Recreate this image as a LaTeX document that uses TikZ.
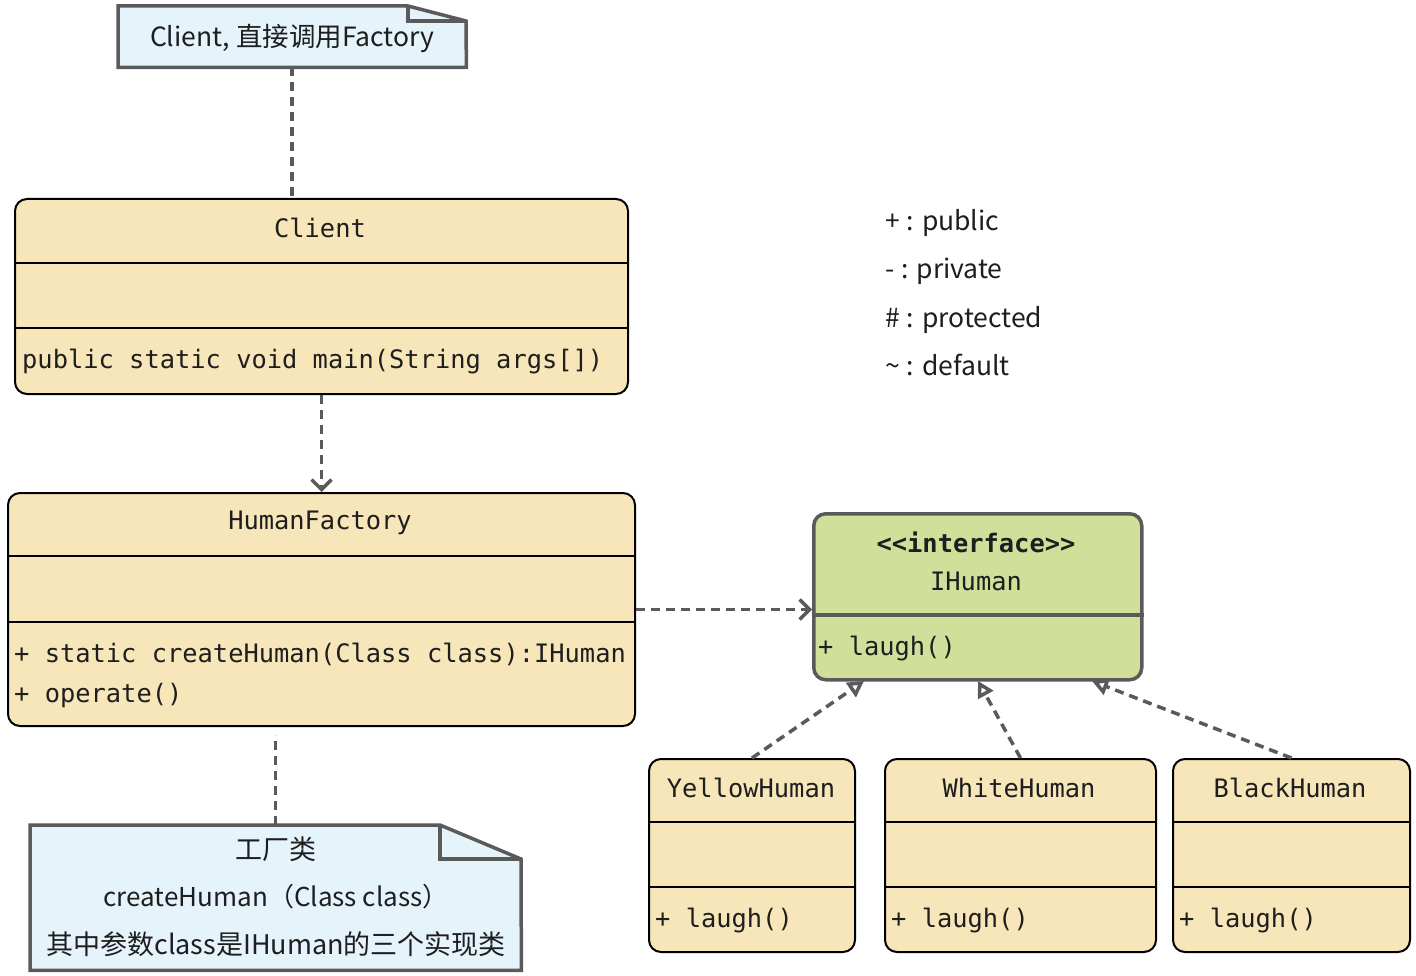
\documentclass[tikz,border=0pt]{standalone}
\usepackage{fontspec}
\setmainfont{Noto Sans CJK SC}
\setmonofont{DejaVu Sans Mono}
\usetikzlibrary{arrows.meta,calc}
\definecolor{classfill}{HTML}{F7E6B9}
\definecolor{notefill}{HTML}{E5F3FB}
\definecolor{ifill}{HTML}{D0E09B}
\definecolor{gray5}{HTML}{5A5A5A}
\definecolor{txt}{HTML}{1E1E1E}
\newcommand{\lgsep}[2]{#1\hspace{0.26em}:\hspace{0.3em}#2}
\begin{document}
\begin{tikzpicture}[x=1pt,y=-1pt,
 classbox/.style={draw=black, line width=2pt, fill=classfill, rounded corners=12pt, anchor=north west, inner sep=0pt},
 ifacebox/.style={draw=gray5, line width=3.5pt, fill=ifill, rounded corners=12pt, anchor=north west, inner sep=0pt},
 divider/.style={draw=black, line width=2pt},
 idivider/.style={draw=gray5, line width=3.5pt},
 mono/.style={font=\ttfamily\fontsize{25.4}{30}\selectfont, inner sep=0pt, text=txt},
 sans/.style={font=\fontsize{26.5}{31}\selectfont, inner sep=0pt, text=txt},
 bigsans/.style={font=\fontsize{27}{32}\selectfont, inner sep=0pt, text=txt},
 notebox/.style={draw=gray5, line width=3.5pt, fill=notefill},
 holder/.style={anchor=north west, inner sep=0pt},
 link/.style={draw=gray5, line width=3.5pt, dash pattern=on 9pt off 6pt},
 dep/.style={link, -{Straight Barb[length=10pt,width=20pt]}},
 real/.style={link, -{Triangle[open, length=16pt, width=17pt, fill=white]}},
]
\useasboundingbox[fill=white] (0,0) rectangle (1416,976);

% ---- top note
\node[holder, minimum width=348pt, minimum height=61pt] (note1) at (118,6) {};
\draw[notebox] (note1.south west) -- (note1.north west) -- (408,6) -- (466,21) -- (note1.south east) -- cycle;
\draw[gray5, line width=3.5pt] (408,6) -- (408,21) -- (466,21);
\node[sans] (note1t) at ($(note1.center)+(0,1.5)$) {Client, 直接调用Factory};

% ---- Client
\node[classbox, minimum width=613pt, minimum height=195pt] (client) at (14,198) {};
\draw[divider] (client.west |- 0,263) -- (client.east |- 0,263);
\draw[divider] (client.west |- 0,328) -- (client.east |- 0,328);
\node[mono] (clientt) at (320,228) {Client};
\node[mono, anchor=mid west] (clientm) at (22,366) {public static void main(String args[])};

% ---- HumanFactory
\node[classbox, minimum width=627pt, minimum height=233pt] (factory) at (7,492) {};
\draw[divider] (factory.west |- 0,556) -- (factory.east |- 0,556);
\draw[divider] (factory.west |- 0,622) -- (factory.east |- 0,622);
\node[mono] (factoryt) at (320,523) {HumanFactory};
\node[mono, anchor=mid west] (factorym1) at (14,660) {+ static createHuman(Class class):IHuman};
\node[mono, anchor=mid west] (factorym2) at (14,700) {+ operate()};

% ---- IHuman
\node[ifacebox, minimum width=328pt, minimum height=166pt] (ihuman) at (812,512) {};
\draw[idivider] (ihuman.west |- 0,615) -- (ihuman.east |- 0,615);
\node[mono, font=\ttfamily\bfseries\fontsize{25.4}{30}\selectfont] (ihumans) at (976,542) {<<interface>>};
\node[mono] (ihumant) at (976,581) {IHuman};
\node[mono, anchor=mid west] (ihumanm) at (818,653) {+ laugh()};

% ---- implementations
\node[classbox, minimum width=206pt, minimum height=193pt] (yellow) at (648,758) {};
\node[classbox, minimum width=271pt, minimum height=193pt] (white) at (884,758) {};
\node[classbox, minimum width=237pt, minimum height=193pt] (black) at (1172,758) {};
\foreach \b in {yellow,white,black}{
  \draw[divider] (\b.west |- 0,822) -- (\b.east |- 0,822);
  \draw[divider] (\b.west |- 0,887) -- (\b.east |- 0,887);
}
\node[mono] (yellowt) at (751,788) {YellowHuman};
\node[mono] (whitet) at (1019,788) {WhiteHuman};
\node[mono] (blackt) at (1290,788) {BlackHuman};
\node[mono, anchor=mid west] (yellowm) at (655,925) {+ laugh()};
\node[mono, anchor=mid west] (whitem) at (891,925) {+ laugh()};
\node[mono, anchor=mid west] (blackm) at (1179,925) {+ laugh()};

% ---- bottom note
\node[holder, minimum width=491pt, minimum height=145pt] (note2) at (30,825) {};
\draw[notebox] (note2.south west) -- (note2.north west) -- (440,825) -- (521,859) -- (note2.south east) -- cycle;
\draw[gray5, line width=3.5pt] (440,825) -- (440,859) -- (521,859);
\node[bigsans] (note2a) at (276,849) {工厂类};
\node[bigsans, font=\fontsize{26}{31}\selectfont] (note2b) at (276,897) {createHuman（Class class）};
\node[bigsans] (note2c) at (276,944) {其中参数class是IHuman的三个实现类};

% ---- legend
\node[sans, anchor=mid west] (lg1) at (885,228) {\lgsep{+}{public}};
\node[sans, anchor=mid west] (lg2) at (885,276) {\lgsep{-}{private}};
\node[sans, anchor=mid west] (lg3) at (885,325) {\lgsep{\#}{protected}};
\node[sans, anchor=mid west] (lg4) at (885,373) {\lgsep{\textasciitilde}{default}};

% ---- connectors
\draw[link] (note1.south) -- (note1.south |- client.north);
\draw[dep] (client.south) -- (factory.north);
\draw[dep] (factory.east) -- (ihuman.west |- factory.east);
\draw[link] (note2.north) -- ($(note2.north |- factory.south)+(0,8)$);
\coordinate (ty) at (864,681);
\coordinate (tw) at (978,681);
\coordinate (tb) at (1092,681);
\draw[real] (yellow.north) -- (ty);
\draw[real] (white.north) -- (tw);
\draw[real] (black.north) -- (tb);
\end{tikzpicture}
\end{document}
